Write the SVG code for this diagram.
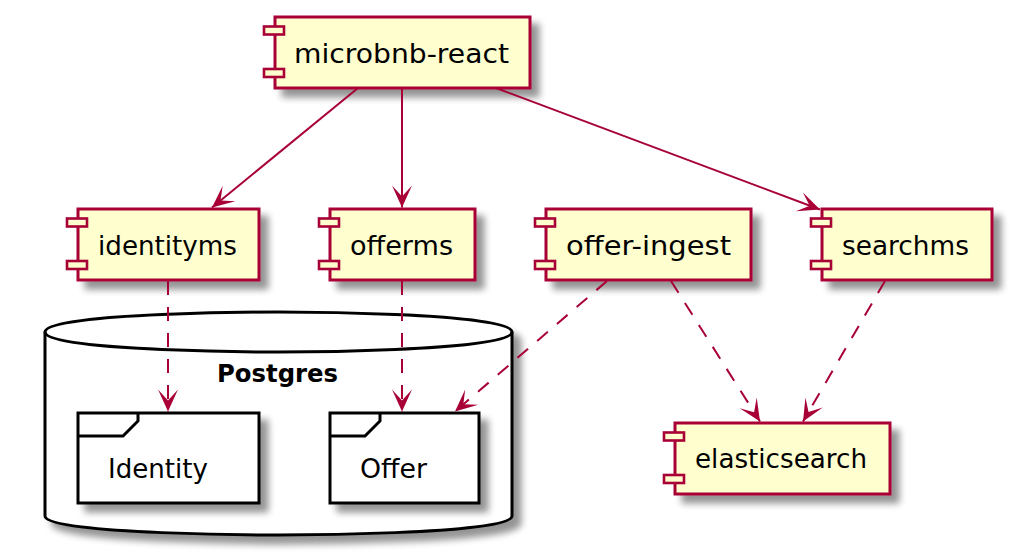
<svg xmlns="http://www.w3.org/2000/svg" width="1011" height="558" viewBox="0 0 1011 558">
<style>
.comp{fill:#FEFECE;stroke:#A80036;stroke-width:3}
.port{fill:#FEFECE;stroke:#A80036;stroke-width:2.6}
.pkg{fill:#FFFFFF;stroke:#000000;stroke-width:3}
.lbl{font-family:"DejaVu Sans","Liberation Sans",sans-serif;font-size:26px;fill:#000000;text-anchor:middle}
.bold{font-weight:bold;font-size:25px}
.edge{fill:none;stroke:#A80036;stroke-width:2;marker-end:url(#arr)}
.dash{stroke-dasharray:14,12}
</style>
<defs>
<filter id="sh" x="-10%" y="-10%" width="130%" height="150%">
<feGaussianBlur in="SourceAlpha" stdDeviation="3.5" result="b"/>
<feOffset in="b" dx="8" dy="8" result="o"/>
<feComponentTransfer in="o" result="s"><feFuncA type="linear" slope="0.42"/></feComponentTransfer>
<feMerge><feMergeNode in="s"/><feMergeNode in="SourceGraphic"/></feMerge>
</filter>
<marker id="arr" markerUnits="userSpaceOnUse" markerWidth="26" markerHeight="24" viewBox="-24 -12 26 24" refX="0" refY="0" orient="auto">
<path d="M0,0 L-22,-10 L-11,0 L-22,10 Z" fill="#A80036" stroke="none"/>
</marker>
</defs>

<g id="Postgres">
<path class="pkg" filter="url(#sh)" d="M45,332 C45,312 278.5,312 278.5,312 C278.5,312 512,312 512,332 L512,516 C512,535 278.5,535 278.5,535 C278.5,535 45,535 45,516 Z"/>
<path d="M45,332 C45,352 278.5,352 278.5,352 C278.5,352 512,352 512,332" fill="none" stroke="#000" stroke-width="3"/>
<text class="lbl bold" x="277.5" y="382" textLength="121" lengthAdjust="spacingAndGlyphs">Postgres</text>
</g>

<g id="Identity">
<rect class="pkg" filter="url(#sh)" x="78" y="413" width="181" height="90"/>
<path d="M78,436 L123,436 L138,421 L138,413" fill="none" stroke="#000" stroke-width="3"/>
<text class="lbl" x="158" y="478" textLength="100" lengthAdjust="spacingAndGlyphs">Identity</text>
</g>

<g id="Offer">
<rect class="pkg" filter="url(#sh)" x="330" y="413" width="149" height="90"/>
<path d="M330,436 L365,436 L380,421 L380,413" fill="none" stroke="#000" stroke-width="3"/>
<text class="lbl" x="393.5" y="478" textLength="67" lengthAdjust="spacingAndGlyphs">Offer</text>
</g>

<g id="microbnb-react">
<rect class="comp" filter="url(#sh)" x="275" y="17" width="255" height="71"/>
<rect class="port" x="264" y="26.5" width="20" height="8"/>
<rect class="port" x="264" y="69" width="20" height="8"/>
<text class="lbl" x="401.5" y="63" textLength="215" lengthAdjust="spacingAndGlyphs">microbnb-react</text>
</g>

<g id="identityms">
<rect class="comp" filter="url(#sh)" x="78" y="209" width="181" height="71"/>
<rect class="port" x="67" y="218.5" width="20" height="8"/>
<rect class="port" x="67" y="261" width="20" height="8"/>
<text class="lbl" x="167.5" y="255" textLength="139" lengthAdjust="spacingAndGlyphs">identityms</text>
</g>

<g id="offerms">
<rect class="comp" filter="url(#sh)" x="330" y="209" width="145" height="71"/>
<rect class="port" x="319" y="218.5" width="20" height="8"/>
<rect class="port" x="319" y="261" width="20" height="8"/>
<text class="lbl" x="401.5" y="255" textLength="103" lengthAdjust="spacingAndGlyphs">offerms</text>
</g>

<g id="offer-ingest">
<rect class="comp" filter="url(#sh)" x="546" y="209" width="205" height="71"/>
<rect class="port" x="535" y="218.5" width="20" height="8"/>
<rect class="port" x="535" y="261" width="20" height="8"/>
<text class="lbl" x="648.5" y="255" textLength="165" lengthAdjust="spacingAndGlyphs">offer-ingest</text>
</g>

<g id="searchms">
<rect class="comp" filter="url(#sh)" x="822" y="209" width="170" height="71"/>
<rect class="port" x="811" y="218.5" width="20" height="8"/>
<rect class="port" x="811" y="261" width="20" height="8"/>
<text class="lbl" x="905.5" y="255" textLength="127" lengthAdjust="spacingAndGlyphs">searchms</text>
</g>

<g id="elasticsearch">
<rect class="comp" filter="url(#sh)" x="675" y="423" width="215" height="71"/>
<rect class="port" x="664" y="432.5" width="20" height="8"/>
<rect class="port" x="664" y="475" width="20" height="8"/>
<text class="lbl" x="781" y="468" textLength="172" lengthAdjust="spacingAndGlyphs">elasticsearch</text>
</g>

<g id="connectors">
<line class="edge" x1="358" y1="88" x2="212" y2="207.5"/>
<line class="edge" x1="402" y1="88" x2="402" y2="207.5"/>
<line class="edge" x1="496" y1="88" x2="820" y2="209.5"/>
<line class="edge dash" x1="168" y1="281" x2="168" y2="411.5"/>
<line class="edge dash" x1="402" y1="281" x2="402" y2="411.5"/>
<line class="edge dash" x1="607" y1="281" x2="455" y2="411.5"/>
<line class="edge dash" x1="671" y1="281" x2="760" y2="421.5"/>
<line class="edge dash" x1="885" y1="281" x2="803" y2="421.5"/>
</g>
</svg>
